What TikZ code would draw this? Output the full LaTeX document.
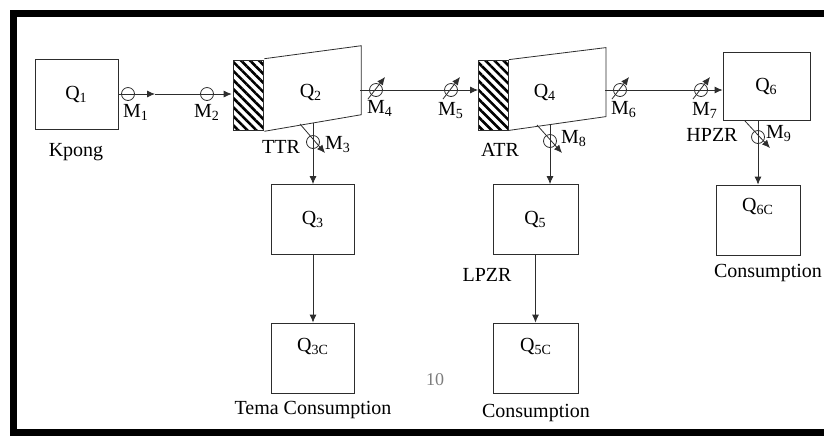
\documentclass[tikz,border=0pt]{standalone}
\usepackage{fontspec}
\setmainfont{Liberation Serif}
\usepackage{xcolor}
\usetikzlibrary{arrows.meta,positioning,patterns.meta}
\definecolor{fwline}{RGB}{45,45,45}
\definecolor{fwgray}{RGB}{125,125,125}
\tikzset{
  fwbox/.style={draw=fwline, minimum width=41.5pt, minimum height=35pt, inner sep=0pt},
  fwhatch/.style={draw=fwline, minimum width=15pt, minimum height=35pt, inner sep=0pt,
    pattern={Lines[angle=-45,distance=3.2pt,line width=1.3pt]}},
  fwvalve/.style={circle, draw=fwline, minimum size=6.5pt, inner sep=0pt},
  fwarr/.style={-{Latex[length=4pt,width=3.5pt]}, draw=fwline},
  fwline/.style={draw=fwline},
  fwtxt/.style={inner sep=1pt}
}
\begin{document}
\begin{tikzpicture}[x=0.5pt, y=-0.5pt]
\useasboundingbox (0,0) rectangle (824,435);
\draw[line width=3.5pt] (824,13.5) -- (13.5,13.5) -- (13.5,432) -- (824,432);
% sources and tanks
\node[fwbox, minimum width=41.5pt] (q1) at (76.5,94) {Q\textsubscript{1}};
\node[fwtxt] (kpong) at (76,152) {Kpong};
\node[fwhatch] (ttrin) at (248,95) {};
\draw[fwline] (ttrin.north east) -- ++(97,-13) coordinate (ttrtr) -- ++(0,69) coordinate (ttrbr) -- (ttrin.south east);
\node[fwtxt] (q2) at (311,92) {Q\textsubscript{2}};
\node[fwtxt] (ttr) at (281,147) {TTR};
\node[fwhatch] (atrin) at (493.5,95) {};
\draw[fwline] (atrin.north east) -- ++(97,-12) coordinate (atrtr) -- ++(0,69) coordinate (atrbr) -- (atrin.south east);
\node[fwtxt] (q4) at (545,92) {Q\textsubscript{4}};
\node[fwtxt] (atr) at (500,150) {ATR};
\node[fwbox, minimum width=43.5pt, minimum height=34pt] (q6) at (766.5,86) {Q\textsubscript{6}};
\node[fwtxt] (hpzr) at (712,135) {HPZR};
\node[fwbox] (q3) at (313,219.5) {Q\textsubscript{3}};
\node[fwbox] (q3c) at (313,358) {};
\node[fwtxt] (q3ctxt) at (313,346) {Q\textsubscript{3C}};
\node[fwtxt] (tema) at (313,410) {Tema Consumption};
\node[fwbox, minimum width=42.5pt] (q5) at (535.5,219.5) {Q\textsubscript{5}};
\node[fwtxt] (lpzr) at (487,275) {LPZR};
\node[fwbox, minimum width=42.5pt] (q5c) at (535.5,358) {};
\node[fwtxt] (q5ctxt) at (536,346) {Q\textsubscript{5C}};
\node[fwtxt] (cons5) at (536,413) {Consumption};
\node[fwbox, minimum width=42pt] (q6c) at (758,220) {};
\node[fwtxt] (q6ctxt) at (758,206) {Q\textsubscript{6C}};
\node[fwtxt] (cons6) at (768,273) {Consumption};
\node[fwtxt, text=fwgray, font=\small] (pagenum) at (435,380) {10};
% meters
\node[fwvalve] (m1) at (128,94) {};
\node[fwvalve] (m2) at (207,94) {};
\node[fwvalve] (m3) at (313,142) {};
\node[fwvalve] (m4) at (376,90) {};
\node[fwvalve] (m5) at (451,90) {};
\node[fwvalve] (m6) at (620,90) {};
\node[fwvalve] (m7) at (701,90) {};
\node[fwvalve] (m8) at (550,141) {};
\node[fwvalve] (m9) at (758,137) {};
\node[fwtxt] (m1txt) at (136,112) {M\textsubscript{1}};
\node[fwtxt] (m2txt) at (207,112) {M\textsubscript{2}};
\node[fwtxt] (m3txt) at (338,145) {M\textsubscript{3}};
\node[fwtxt] (m4txt) at (380,108) {M\textsubscript{4}};
\node[fwtxt] (m5txt) at (451,111) {M\textsubscript{5}};
\node[fwtxt] (m6txt) at (624,110) {M\textsubscript{6}};
\node[fwtxt] (m7txt) at (705,110) {M\textsubscript{7}};
\node[fwtxt] (m8txt) at (574,139) {M\textsubscript{8}};
\node[fwtxt] (m9txt) at (779,134) {M\textsubscript{9}};
% flows
\coordinate (mid1) at (155,94);
\coordinate (ttrout) at (360,90);
\coordinate (ttrbot) at (313,123);
\coordinate (atrout) at (605,90);
\coordinate (atrbot) at (550,124);
\coordinate (hpzrbot) at (q6c.north |- q6.south);
\draw[fwarr] (q1.east |- mid1) -- (mid1);
\draw[fwarr] (mid1) -- (ttrin.west |- mid1);
\draw[fwarr] (ttrout) -- (atrin.west |- ttrout);
\draw[fwarr] (ttrbot) -- (q3.north);
\draw[fwarr] (q3.south) -- (q3c.north);
\draw[fwarr] (atrout) -- (q6.west |- atrout);
\draw[fwarr] (atrbot) -- (atrbot |- q5.north);
\draw[fwarr] (q5.south) -- (q5c.north);
\draw[fwarr] (hpzrbot) -- (q6c.north);
% control arrows through meters
\draw[fwarr] ([shift={(-8,9)}]m4.center) -- ([shift={(9,-13)}]m4.center);
\draw[fwarr] ([shift={(-8,9)}]m5.center) -- ([shift={(9,-13)}]m5.center);
\draw[fwarr] ([shift={(-8,9)}]m6.center) -- ([shift={(9,-13)}]m6.center);
\draw[fwarr] ([shift={(-8,9)}]m7.center) -- ([shift={(9,-13)}]m7.center);
\draw[fwarr] ([shift={(-13,-18)}]m3.center) -- ([shift={(12,11)}]m3.center);
\draw[fwarr] ([shift={(-13,-16)}]m8.center) -- ([shift={(12,12)}]m8.center);
\draw[fwarr] ([shift={(-13,-16)}]m9.center) -- ([shift={(12,11)}]m9.center);
\end{tikzpicture}
\end{document}
